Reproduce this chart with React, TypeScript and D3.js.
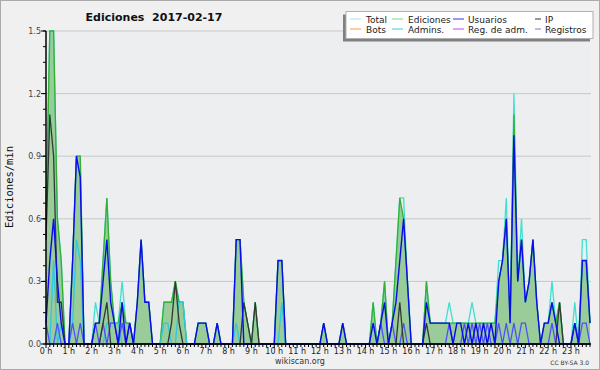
import React from "react";
import * as d3 from "d3";

// 10-minute bins (144 per day), values in edits/min
const hourLabels = d3.range(24).map((h) => `${h} h`);
const yTickLabels = ["0.0", "0.3", "0.6", "0.9", "1.2", "1.5"];

const ediciones = [
  0.6, 1.5, 1.5, 0.6, 0.4, 0,
  0, 0.4, 0.9, 0.9, 0, 0,
  0, 0.1, 0.1, 0.4, 0.7, 0.3,
  0.1, 0.1, 0.2, 0.1, 0.1, 0,
  0.2, 0.5, 0.2, 0.2, 0, 0,
  0, 0.2, 0.2, 0.2, 0.3, 0.2,
  0.2, 0, 0, 0, 0.1, 0.1,
  0.1, 0, 0, 0.1, 0, 0,
  0, 0, 0.5, 0.5, 0.2, 0.1,
  0, 0.2, 0, 0, 0, 0,
  0, 0.4, 0.4, 0, 0, 0,
  0, 0, 0, 0, 0, 0,
  0, 0.1, 0, 0, 0, 0,
  0.1, 0, 0, 0, 0, 0,
  0, 0, 0.2, 0, 0.1, 0.3,
  0, 0.1, 0.4, 0.7, 0.6, 0.3,
  0, 0, 0, 0, 0.3, 0.1,
  0.1, 0.1, 0.1, 0.1, 0.1, 0.1,
  0.1, 0.1, 0.1, 0.1, 0.1, 0.1,
  0.1, 0.1, 0.1, 0.1, 0.1, 0.3,
  0.4, 0.6, 0.1, 1.1, 0.3, 0.5,
  0.2, 0.3, 0.5, 0.2, 0, 0.1,
  0.1, 0.2, 0.1, 0.2, 0, 0,
  0, 0.1, 0, 0.4, 0.4, 0.1,
];

const total = [
  0.6, 1.5, 1.5, 0.6, 0.4, 0,
  0, 0.4, 0.9, 0.9, 0, 0,
  0, 0.2, 0.1, 0.4, 0.7, 0.3,
  0.1, 0.1, 0.3, 0.1, 0.1, 0,
  0.2, 0.5, 0.2, 0.2, 0, 0,
  0, 0.2, 0.2, 0.2, 0.3, 0.2,
  0.2, 0, 0, 0, 0.1, 0.1,
  0.1, 0, 0, 0.1, 0, 0,
  0, 0, 0.5, 0.5, 0.2, 0.1,
  0, 0.2, 0, 0, 0, 0,
  0, 0.4, 0.4, 0, 0, 0,
  0, 0, 0, 0, 0, 0,
  0, 0.1, 0, 0, 0, 0,
  0.1, 0, 0, 0, 0, 0,
  0, 0, 0.2, 0, 0.1, 0.3,
  0, 0.1, 0.4, 0.7, 0.7, 0.3,
  0, 0, 0, 0, 0.3, 0.1,
  0.1, 0.1, 0.1, 0.1, 0.2, 0.1,
  0.1, 0.1, 0.1, 0.1, 0.2, 0.1,
  0.1, 0.1, 0.1, 0.1, 0.1, 0.4,
  0.4, 0.7, 0.1, 1.2, 0.3, 0.6,
  0.2, 0.3, 0.5, 0.2, 0, 0.1,
  0.1, 0.3, 0.1, 0.2, 0, 0,
  0, 0.2, 0, 0.5, 0.5, 0.1,
];

const usuarios = [
  0.1, 0.4, 0.6, 0.3, 0.1, 0,
  0, 0.4, 0.9, 0.8, 0, 0,
  0, 0.1, 0.1, 0.3, 0.5, 0.2,
  0.1, 0, 0.2, 0, 0.1, 0,
  0.2, 0.5, 0.2, 0.2, 0, 0,
  0, 0, 0, 0, 0, 0,
  0, 0, 0, 0, 0.1, 0.1,
  0.1, 0, 0, 0.1, 0, 0,
  0, 0, 0.5, 0.5, 0, 0,
  0, 0, 0, 0, 0, 0,
  0, 0.4, 0.4, 0, 0, 0,
  0, 0, 0, 0, 0, 0,
  0, 0.1, 0, 0, 0, 0,
  0.1, 0, 0, 0, 0, 0,
  0, 0, 0.1, 0, 0.1, 0.2,
  0, 0.1, 0.2, 0.4, 0.6, 0.3,
  0, 0, 0, 0, 0.2, 0.1,
  0.1, 0.1, 0.1, 0.1, 0.1, 0,
  0.1, 0.1, 0, 0.1, 0, 0.1,
  0, 0.1, 0, 0.1, 0, 0.3,
  0.4, 0.6, 0.1, 1.0, 0.3, 0.5,
  0.2, 0.3, 0.5, 0.2, 0, 0.1,
  0.1, 0.2, 0.1, 0, 0, 0,
  0, 0.1, 0, 0.4, 0.4, 0.1,
];

const ip = [
  0.5, 1.1, 0.9, 0.2, 0.2, 0,
  0, 0, 0, 0, 0, 0,
  0, 0, 0, 0.1, 0.2, 0,
  0, 0, 0, 0, 0, 0,
  0, 0, 0, 0, 0, 0,
  0, 0, 0, 0.1, 0.3, 0.1,
  0, 0, 0, 0, 0, 0,
  0, 0, 0, 0, 0, 0,
  0, 0, 0, 0, 0.2, 0.1,
  0, 0.2, 0, 0, 0, 0,
  0, 0, 0, 0, 0, 0,
  0, 0, 0, 0, 0, 0,
  0, 0, 0, 0, 0, 0,
  0, 0, 0, 0, 0, 0,
  0, 0, 0, 0, 0, 0,
  0, 0, 0, 0.2, 0, 0,
  0, 0, 0, 0, 0.1, 0,
  0, 0, 0, 0, 0, 0,
  0, 0, 0, 0, 0, 0,
  0, 0, 0, 0, 0, 0,
  0, 0, 0, 0, 0, 0,
  0, 0, 0, 0, 0, 0,
  0, 0, 0, 0.2, 0, 0,
  0, 0, 0, 0, 0, 0,
];

const admins = [
  0, 0, 0.4, 0, 0.1, 0,
  0, 0.1, 0.5, 0.4, 0, 0,
  0, 0, 0, 0, 0.1, 0.1,
  0.1, 0.1, 0, 0, 0, 0,
  0, 0, 0, 0, 0, 0,
  0, 0.1, 0.1, 0, 0, 0.2,
  0.2, 0, 0, 0, 0, 0,
  0, 0, 0, 0, 0, 0,
  0, 0, 0.1, 0, 0, 0,
  0, 0, 0, 0, 0, 0,
  0, 0, 0.2, 0, 0, 0,
  0, 0, 0, 0, 0, 0,
  0, 0, 0, 0, 0, 0,
  0, 0, 0, 0, 0, 0,
  0, 0, 0, 0, 0, 0,
  0, 0, 0, 0, 0, 0,
  0, 0, 0, 0, 0, 0,
  0, 0, 0, 0, 0, 0,
  0, 0, 0, 0, 0, 0,
  0, 0, 0, 0, 0, 0,
  0, 0, 0, 0, 0, 0,
  0, 0, 0, 0, 0, 0,
  0, 0, 0, 0, 0, 0,
  0, 0, 0, 0, 0, 0,
];

const registros = [
  0.1, 0, 0, 0.1, 0, 0,
  0, 0.1, 0, 0.1, 0, 0,
  0, 0.1, 0, 0.1, 0, 0.1,
  0.1, 0, 0.1, 0, 0.1, 0,
  0, 0, 0, 0, 0, 0,
  0, 0, 0, 0, 0, 0,
  0, 0, 0, 0, 0, 0,
  0, 0, 0, 0, 0, 0,
  0, 0, 0, 0, 0, 0,
  0, 0, 0, 0, 0, 0,
  0, 0, 0, 0, 0, 0,
  0, 0, 0, 0, 0, 0,
  0, 0, 0, 0, 0, 0,
  0, 0, 0, 0, 0, 0,
  0, 0, 0, 0, 0.1, 0,
  0, 0.1, 0, 0, 0.1, 0,
  0, 0, 0, 0, 0, 0,
  0, 0, 0, 0, 0.1, 0,
  0, 0, 0.1, 0, 0.1, 0,
  0.1, 0, 0.1, 0, 0, 0.1,
  0, 0.1, 0, 0.1, 0, 0.1,
  0.1, 0, 0, 0, 0, 0,
  0, 0.1, 0, 0, 0, 0,
  0, 0.1, 0, 0.1, 0.1, 0,
];

const legendItems = [
  { label: "Total", color: "#a8e6df" },
  { label: "Ediciones", color: "#88cc88" },
  { label: "Usuarios", color: "#3333dd" },
  { label: "IP", color: "#333333" },
  { label: "Bots", color: "#ff9933" },
  { label: "Admins.", color: "#40c8e0" },
  { label: "Reg. de adm.", color: "#cc44dd" },
  { label: "Registros", color: "#7777ee" },
];

const W = 600;
const H = 370;
const L = 46;
const R = 590;
const T = 31;
const B = 344;

export default function App() {
  const n = ediciones.length;
  const x = d3.scaleLinear().domain([0, n - 1]).range([L, R]);
  const y = d3.scaleLinear().domain([0, 1.5]).range([B, T]);
  const line = d3
    .line<number>()
    .x((_, i) => x(i))
    .y((d) => y(d));
  const area = d3
    .area<number>()
    .x((_, i) => x(i))
    .y0(y(0))
    .y1((d) => y(d));

  const majors = yTickLabels.map((t) => +t);
  const minors = d3.range(0, 1.5001, 0.075);
  const font = "'DejaVu Sans', Verdana, sans-serif";

  const legendCols = [350, 392, 453, 535];
  const legendTextX = [366, 408, 468, 545];
  const legendRows = [19, 29];

  return (
    <svg
      width={W}
      height={H}
      style={{ position: "absolute", left: 0, top: 0 }}
      fontFamily={font}
    >
      <rect x={0} y={0} width={W} height={H} fill="#f0f0f0" />
      <rect x={0.5} y={0.5} width={W - 1} height={H - 1} fill="none" stroke="#aaaaaa" />
      <rect x={L} y={T} width={R - L + 1} height={B - T} fill="#eceef0" />

      {majors.slice(1).map((v) => (
        <line key={"g" + v} x1={L} x2={R + 1} y1={y(v)} y2={y(v)} stroke="#c8c8c8" strokeWidth={1} />
      ))}

      {/* series */}
      <path d={area(ediciones) || ""} fill="#99cc99" />
      <path d={line(total) || ""} fill="none" stroke="#40e0d0" strokeWidth={1.3} />
      <path d={line(ediciones) || ""} fill="none" stroke="#33b033" strokeWidth={1.3} />
      <path d={line(admins) || ""} fill="none" stroke="#30c8e0" strokeWidth={1.3} />
      <path d={line(registros) || ""} fill="none" stroke="#5050ff" strokeWidth={1.3} />
      <path d={line(ip) || ""} fill="none" stroke="#333833" strokeWidth={1.3} />
      <path d={line(usuarios) || ""} fill="none" stroke="#0a0aee" strokeWidth={1.4} />

      {/* axes */}
      <line x1={L} x2={L} y1={T} y2={B} stroke="#000" strokeWidth={1.5} />
      <line x1={L} x2={R + 1} y1={B} y2={B} stroke="#000" strokeWidth={1.5} />
      {minors.map((v, i) => (
        <line key={"ym" + i} x1={L - 3} x2={L} y1={y(v)} y2={y(v)} stroke="#000" strokeWidth={1} />
      ))}
      {majors.map((v, i) => (
        <g key={"yt" + i}>
          <line x1={L - 5} x2={L} y1={y(v)} y2={y(v)} stroke="#000" strokeWidth={1} />
          <text x={L - 5} y={y(v) + 3} fontSize={8} textAnchor="end" fill="#444">
            {yTickLabels[i]}
          </text>
        </g>
      ))}
      {d3.range(n).map((i) => (
        <line key={"xt" + i} x1={x(i)} x2={x(i)} y1={B} y2={B + (i % 6 === 0 ? 4 : 3)} stroke="#000" strokeWidth={1} />
      ))}
      {hourLabels.map((lab, h) => (
        <text key={"xl" + h} x={x(h * 6)} y={354} fontSize={8} textAnchor="middle" fill="#222">
          {lab}
        </text>
      ))}

      {/* title and labels */}
      <text x={154} y={21} fontSize={11} fontWeight="bold" textAnchor="middle" fill="#111" style={{ whiteSpace: "pre" }}>
        {"Ediciones  2017-02-17"}
      </text>
      <text
        transform="translate(13,187) rotate(-90)"
        fontSize={10.5}
        fontFamily="'DejaVu Sans Mono', monospace"
        textAnchor="middle"
        fill="#111"
      >
        Ediciones/min
      </text>
      <text x={300} y={364} fontSize={8} textAnchor="middle" fill="#333">
        wikiscan.org
      </text>
      <text x={589} y={364.5} fontSize={6} textAnchor="end" fill="#333">
        CC BY-SA 3.0
      </text>

      {/* legend */}
      <rect x={343} y={14.5} width={247} height={27} fill="#808080" />
      <rect x={346} y={11.5} width={247} height={27} fill="#ffffff" stroke="#b0b0b0" strokeWidth={1} />
      {legendItems.map((it, k) => {
        const col = k % 4;
        const row = Math.floor(k / 4);
        const sx = legendCols[col];
        const sw = col === 3 ? 6 : 11;
        return (
          <g key={"lg" + k}>
            <line x1={sx} x2={sx + sw} y1={legendRows[row]} y2={legendRows[row]} stroke={it.color} strokeWidth={1} />
            <text x={legendTextX[col]} y={legendRows[row] + 3.5} fontSize={9} fill="#222">
              {it.label}
            </text>
          </g>
        );
      })}
    </svg>
  );
}
